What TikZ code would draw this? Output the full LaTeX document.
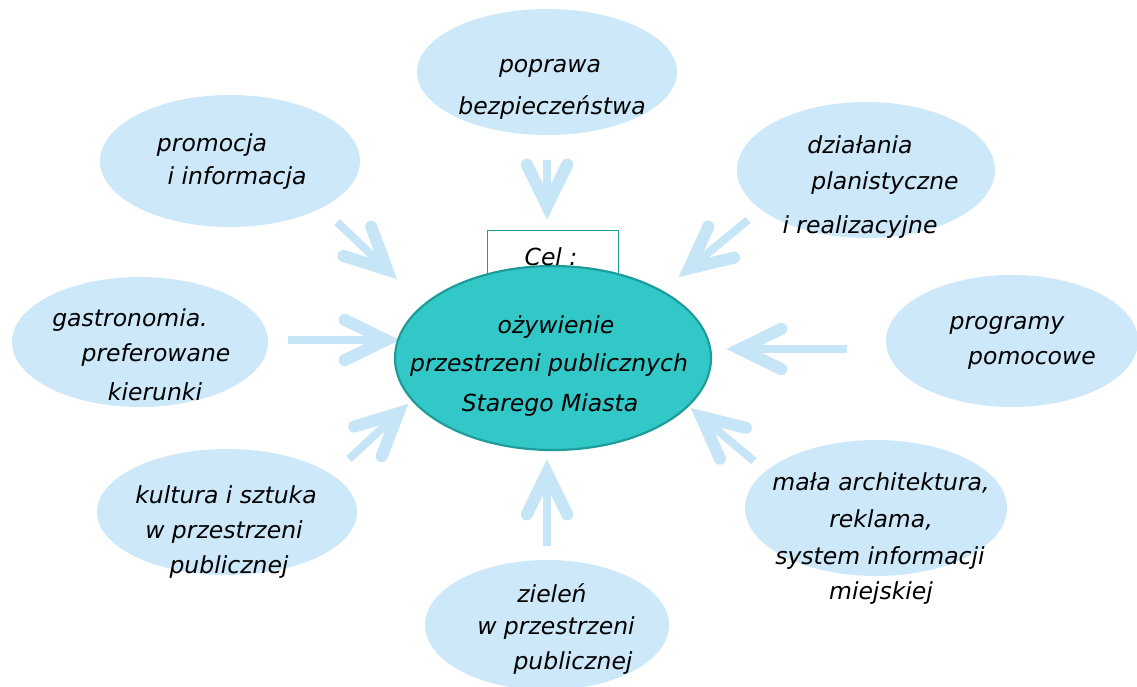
\documentclass[tikz,border=0pt]{standalone}
\usepackage{fontspec}
\setmainfont{DejaVu Sans}
\usetikzlibrary{shapes.geometric,calc}
\definecolor{bubble}{HTML}{CCE8F9}
\definecolor{arrowc}{HTML}{C6E5F7}
\definecolor{tealfill}{HTML}{33C8C8}
\definecolor{tealdark}{HTML}{1E9C9C}
\newcommand\handfont{\fontsize{23.5}{27}\selectfont\itshape}
\newcommand\fatarrow[2]{%
  \coordinate (#2c) at ($(#2)!12pt!(#1)$);
  \draw[shaft] (#1) -- (#2c);
  \draw[barb] ($(#2c)!46pt!26:(#1)$) -- (#2c) -- ($(#2c)!46pt!-26:(#1)$);
}
\tikzset{
  bubblenode/.style={ellipse, fill=bubble, inner sep=0pt},
  txt/.style={font=\handfont, text=black, inner sep=0pt},
  shaft/.style={draw=arrowc, line width=8pt},
  barb/.style={draw=arrowc, line width=12pt, line cap=round, line join=miter},
}
\begin{document}
\begin{tikzpicture}[x=1pt,y=-1pt]
\useasboundingbox (0,0) rectangle (1137,686);
\fill[white] (0,0) rectangle (1137,686);

% outer bubbles
\node[bubblenode, minimum width=260pt, minimum height=126pt] (e1) at (547,72) {};
\node[bubblenode, minimum width=260pt, minimum height=132pt] (e2) at (230,161) {};
\node[bubblenode, minimum width=258pt, minimum height=136pt] (e3) at (866,170) {};
\node[bubblenode, minimum width=256pt, minimum height=130pt] (e4) at (140,342) {};
\node[bubblenode, minimum width=252pt, minimum height=132pt] (e5) at (1012,341) {};
\node[bubblenode, minimum width=260pt, minimum height=126pt] (e6) at (227,512) {};
\node[bubblenode, minimum width=262pt, minimum height=136pt] (e7) at (876,508) {};
\node[bubblenode, minimum width=244pt, minimum height=130pt] (e8) at (547,625) {};

% arrow coordinates
\coordinate (s1) at (547,160); \coordinate (t1) at (547,218);
\coordinate (s2) at (337,222); \coordinate (t2) at (396,278);
\coordinate (s3) at (748,220); \coordinate (t3) at (680,276);
\coordinate (s4) at (288,340); \coordinate (t4) at (398,340);
\coordinate (s5) at (847,349); \coordinate (t5) at (728,349);
\coordinate (s6) at (349,459); \coordinate (t6) at (407,405);
\coordinate (s7) at (754,461); \coordinate (t7) at (692,409);
\coordinate (s8) at (547,546); \coordinate (t8) at (547,461);
\fatarrow{s1}{t1}
\fatarrow{s2}{t2}
\fatarrow{s3}{t3}
\fatarrow{s4}{t4}
\fatarrow{s5}{t5}
\fatarrow{s6}{t6}
\fatarrow{s7}{t7}
\fatarrow{s8}{t8}

% goal box and centre
\node[draw=tealdark, line width=1pt, fill=white, minimum width=131pt, minimum height=44pt, inner sep=0pt] (cel) at (553,252) {};
\node[ellipse, fill=tealfill, draw=tealdark, line width=2.2pt, minimum width=316pt, minimum height=184pt, inner sep=0pt] (c) at (553,358) {};
\node[txt] (celt) at (551,257) {Cel :};
\node[txt] (c1) at (556,327) {ożywienie};
\node[txt] (c2) at (549,365) {przestrzeni publicznych};
\node[txt] (c3) at (550,405) {Starego Miasta};

% texts
\node[txt] (a1) at (550,68) {poprawa};
\node[txt] (a2) at (552,108) {bezpieczeństwa};

\node[txt] (b1) at (212,145) {promocja};
\node[txt] (b2) at (237,178) {i informacja};

\node[txt] (d1) at (860,145) {działania};
\node[txt] (d2) at (885,183) {planistyczne};
\node[txt] (d3) at (860,227) {i realizacyjne};

\node[txt] (g1) at (130,320) {gastronomia.};
\node[txt] (g2) at (156,355) {preferowane};
\node[txt] (g3) at (155,392) {kierunki};

\node[txt] (p1) at (1007,325) {programy};
\node[txt] (p2) at (1032,360) {pomocowe};

\node[txt] (k1) at (226,495) {kultura i sztuka};
\node[txt] (k2) at (224,532) {w przestrzeni};
\node[txt] (k3) at (229,567) {publicznej};

\node[txt] (m1) at (881,483) {mała architektura,};
\node[txt] (m2) at (881,520) {reklama,};
\node[txt] (m3) at (880,558) {system informacji};
\node[txt] (m4) at (881,593) {miejskiej};

\node[txt] (z1) at (552,593) {zieleń};
\node[txt] (z2) at (556,628) {w przestrzeni};
\node[txt] (z3) at (573,663) {publicznej};
\end{tikzpicture}
\end{document}
